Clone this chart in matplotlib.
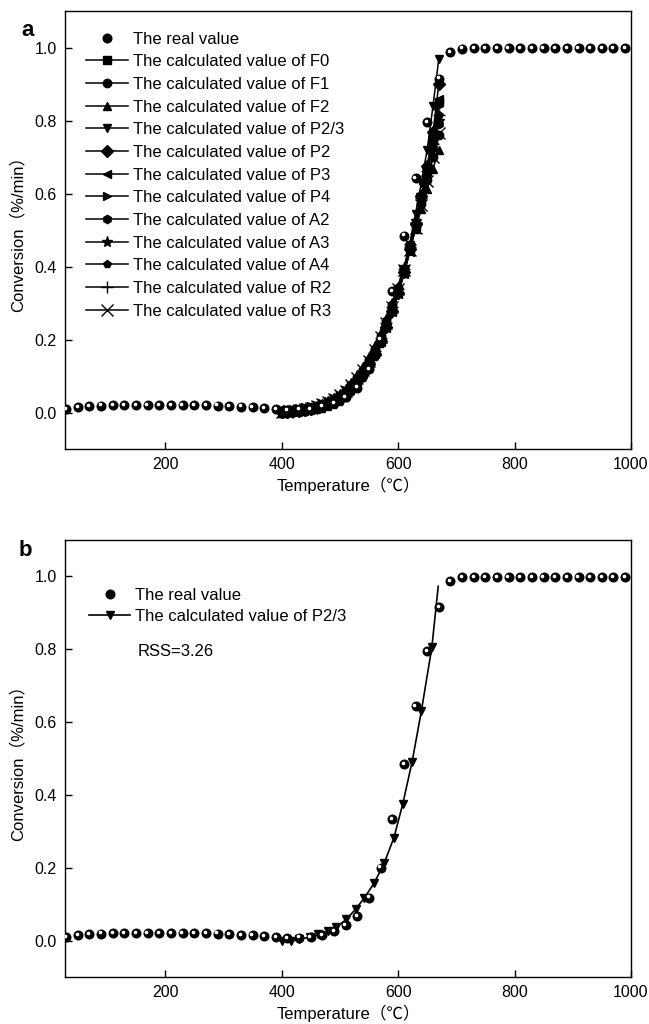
import matplotlib
matplotlib.use("Agg")
import matplotlib.pyplot as plt
from matplotlib.transforms import offset_copy

plt.rcParams['font.family'] = ['Liberation Sans', 'Noto Sans CJK SC']
plt.rcParams['axes.linewidth'] = 1.0

# measured conversion (the real value)
temp_real = [30, 50, 70, 90, 110, 130, 150, 170, 190, 210, 230, 250, 270, 290, 310,
             330, 350, 370, 390, 410, 430, 450, 470, 490, 510, 530, 550, 570, 590,
             610, 630, 650, 670, 690, 710, 730, 750, 770, 790, 810, 830, 850, 870,
             890, 910, 930, 950, 970, 990]
conv_real = [0.010, 0.014, 0.017, 0.019, 0.020, 0.020, 0.021, 0.021, 0.021, 0.021,
             0.021, 0.020, 0.020, 0.019, 0.018, 0.016, 0.014, 0.012, 0.010, 0.007,
             0.008, 0.010, 0.016, 0.026, 0.042, 0.068, 0.118, 0.200, 0.333, 0.485,
             0.643, 0.795, 0.915, 0.987, 0.997, 0.998, 0.998, 0.998, 0.998, 0.998,
             0.998, 0.998, 0.998, 0.998, 0.998, 0.998, 0.998, 0.998, 0.998]

# calculated values of the models, panel a
temp_calc = [400, 410, 420, 430, 440, 450, 460, 470, 480, 490, 500, 510, 520, 530,
             540, 550, 560, 570, 580, 590, 600, 610, 620, 630, 640, 650, 660, 670]
models = ["F0", "F1", "F2", "P2/3", "P2", "P3", "P4", "A2", "A3", "A4", "R2", "R3"]
calc_F0 = [0.000, 0.002, 0.004, 0.006, 0.009, 0.012, 0.016, 0.021, 0.027, 0.035, 0.045, 0.057, 0.072, 0.090,
           0.112, 0.138, 0.168, 0.203, 0.243, 0.288, 0.338, 0.393, 0.453, 0.518, 0.590, 0.668, 0.755, 0.850]
calc_F1 = [0.000, 0.001, 0.003, 0.005, 0.008, 0.011, 0.015, 0.020, 0.027, 0.035, 0.046, 0.059, 0.075, 0.094,
           0.117, 0.144, 0.175, 0.210, 0.250, 0.294, 0.342, 0.394, 0.450, 0.510, 0.572, 0.636, 0.700, 0.760]
calc_F2 = [0.000, 0.002, 0.004, 0.007, 0.010, 0.014, 0.019, 0.025, 0.033, 0.042, 0.054, 0.068, 0.085, 0.105,
           0.128, 0.155, 0.186, 0.221, 0.260, 0.302, 0.348, 0.397, 0.449, 0.503, 0.558, 0.613, 0.668, 0.720]
calc_P23 = [-0.002, 0.000, 0.002, 0.004, 0.006, 0.009, 0.013, 0.018, 0.025, 0.033, 0.043, 0.055, 0.070, 0.088,
            0.110, 0.135, 0.163, 0.195, 0.232, 0.272, 0.322, 0.385, 0.460, 0.545, 0.630, 0.720, 0.840, 0.970]
calc_P2 = [0.001, 0.002, 0.003, 0.005, 0.007, 0.010, 0.014, 0.019, 0.025, 0.033, 0.042, 0.054, 0.068, 0.086,
           0.107, 0.132, 0.161, 0.195, 0.234, 0.278, 0.328, 0.384, 0.447, 0.516, 0.592, 0.676, 0.768, 0.900]
calc_P3 = [0.004, 0.005, 0.006, 0.008, 0.010, 0.013, 0.017, 0.022, 0.028, 0.036, 0.045, 0.057, 0.071, 0.088,
           0.109, 0.133, 0.161, 0.194, 0.232, 0.275, 0.324, 0.379, 0.440, 0.508, 0.583, 0.665, 0.755, 0.860]
calc_P4 = [0.008, 0.009, 0.010, 0.012, 0.014, 0.017, 0.021, 0.026, 0.032, 0.040, 0.049, 0.061, 0.075, 0.092,
           0.112, 0.136, 0.164, 0.197, 0.234, 0.277, 0.325, 0.379, 0.439, 0.505, 0.578, 0.657, 0.743, 0.840]
calc_A2 = [0.000, 0.001, 0.002, 0.004, 0.006, 0.009, 0.013, 0.018, 0.024, 0.032, 0.042, 0.054, 0.069, 0.087,
           0.109, 0.135, 0.165, 0.200, 0.240, 0.285, 0.335, 0.390, 0.450, 0.515, 0.585, 0.655, 0.725, 0.790]
calc_A3 = [0.000, 0.000, 0.001, 0.002, 0.004, 0.006, 0.009, 0.013, 0.019, 0.026, 0.035, 0.047, 0.062, 0.080,
           0.102, 0.128, 0.159, 0.195, 0.237, 0.284, 0.337, 0.395, 0.458, 0.525, 0.595, 0.665, 0.733, 0.800]
calc_A4 = [0.000, 0.000, 0.000, 0.001, 0.002, 0.004, 0.006, 0.010, 0.015, 0.021, 0.030, 0.041, 0.055, 0.073,
           0.095, 0.121, 0.152, 0.189, 0.232, 0.281, 0.335, 0.394, 0.458, 0.526, 0.597, 0.669, 0.742, 0.815]
calc_R2 = [0.001, 0.002, 0.004, 0.006, 0.009, 0.012, 0.016, 0.021, 0.028, 0.036, 0.046, 0.058, 0.073, 0.091,
           0.113, 0.139, 0.169, 0.204, 0.244, 0.289, 0.339, 0.394, 0.454, 0.519, 0.588, 0.661, 0.737, 0.815]
calc_R3 = [0.001, 0.002, 0.004, 0.006, 0.009, 0.012, 0.017, 0.022, 0.029, 0.037, 0.048, 0.060, 0.076, 0.094,
           0.116, 0.142, 0.172, 0.207, 0.246, 0.290, 0.338, 0.390, 0.446, 0.506, 0.569, 0.634, 0.700, 0.765]
calc_all = [calc_F0, calc_F1, calc_F2, calc_P23, calc_P2, calc_P3, calc_P4,
            calc_A2, calc_A3, calc_A4, calc_R2, calc_R3]
markers = ["s", "o", "^", "v", "D", "<", ">", "h", "*", "p", "+", "x"]

# best model (P2/3) for panel b
temp_b = [400, 416, 430, 448, 463, 480, 493, 511, 527, 542, 559, 576, 593, 608, 624, 640, 658, 669]
conv_b = [-0.002, 0.000, 0.005, 0.009, 0.017, 0.025, 0.036, 0.058, 0.086, 0.117, 0.158, 0.212,
          0.283, 0.375, 0.490, 0.630, 0.805, 0.973]
rss_text = "RSS=3.26"

fig = plt.figure(figsize=(6.49, 10.24), dpi=100)
ax_a = fig.add_axes([0.1002, 0.5615, 0.872, 0.4277])
ax_b = fig.add_axes([0.1002, 0.0459, 0.872, 0.4268])


def real_points(ax):
    h, = ax.plot(temp_real, conv_real, "o", color="black", ms=6.2, ls="none",
                 label="The real value", zorder=5)
    shine = offset_copy(ax.transData, fig=fig, x=-0.9, y=0.9, units="points")
    ax.plot(temp_real, conv_real, "o", color="white", ms=1.6, ls="none",
            transform=shine, zorder=6)
    return h


def style(ax):
    ax.set_xlim(28, 1000)
    ax.set_ylim(-0.1, 1.1)
    ax.set_xticks([200, 400, 600, 800, 1000])
    ax.set_yticks([0.0, 0.2, 0.4, 0.6, 0.8, 1.0])
    ax.set_yticklabels(["0.0", "0.2", "0.4", "0.6", "0.8", "1.0"])
    ax.tick_params(direction="in", length=5, width=1.0, labelsize=11.5,
                   top=False, right=False, pad=6)
    ax.set_xlabel("Temperature（℃）", fontsize=12, labelpad=3)
    ax.set_ylabel("Conversion（%/min）", fontsize=12, labelpad=6)


# panel a
real_points(ax_a)
for name, vals, mk in zip(models, calc_all, markers):
    ms = 8 if mk in ("+", "x", "*") else 6
    ax_a.plot(temp_calc, vals, color="black", lw=1.1, marker=mk, ms=ms,
              mew=1.0, label="The calculated value of " + name)
style(ax_a)
ax_a.legend(loc="upper left", bbox_to_anchor=(0.037, 0.953), frameon=False,
            fontsize=12, handlelength=2.5, handletextpad=0.3, labelspacing=0.46,
            borderpad=0, borderaxespad=0)
fig.text(0.043, 0.970, "a", fontsize=16, fontweight="bold", ha="center", va="center")

# panel b
real_points(ax_b)
ax_b.plot(temp_b, conv_b, color="black", lw=1.2, marker="v", ms=6.2,
          markevery=list(range(len(temp_b) - 1)),
          label="The calculated value of P2/3")
style(ax_b)
ax_b.legend(loc="upper left", bbox_to_anchor=(0.042, 0.891), frameon=False,
            fontsize=12, handlelength=2.5, handletextpad=0.3, labelspacing=0.4,
            borderpad=0, borderaxespad=0)
ax_b.text(0.129, 0.744, rss_text, transform=ax_b.transAxes, fontsize=12,
          ha="left", va="center")
fig.text(0.039, 0.462, "b", fontsize=16, fontweight="bold", ha="center", va="center")

fig.savefig("out.png", dpi=100)
